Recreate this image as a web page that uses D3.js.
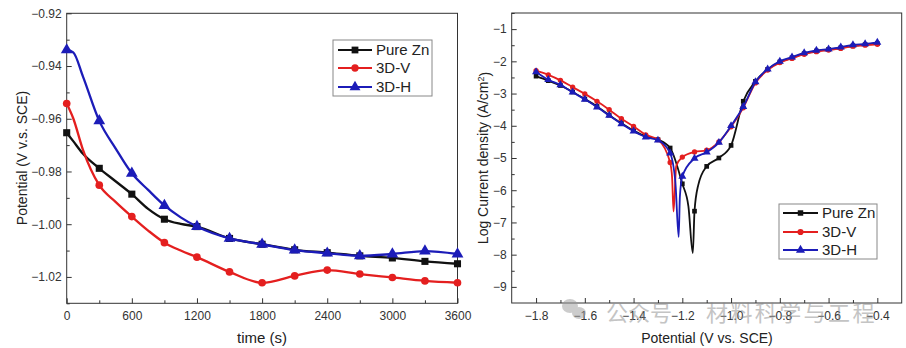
<!DOCTYPE html>
<html>
<head>
<meta charset="utf-8">
<script src="https://cdn.jsdelivr.net/npm/d3@7"></script>
<style>
  html, body { margin: 0; padding: 0; background: #fff; }
  #figure { width: 906px; height: 348px; }
  text { font-family: "Liberation Sans", Arial, sans-serif; }
</style>
</head>
<body>
<div id="figure"></div>
<script>
// open circuit potential vs time
const times = [0, 60, 150, 300, 450, 600, 750, 900, 1050, 1200, 1500, 1800, 2100, 2400, 2700, 3000, 3300, 3600];
const ocpPureZn = [-0.9653, -0.9685, -0.9733, -0.9788, -0.9837, -0.9886, -0.9942, -0.9981, -0.9999, -1.0009, -1.0054, -1.0076, -1.0097, -1.0108, -1.0120, -1.0128, -1.0141, -1.0150];
const ocp3DV    = [-0.9542, -0.9598, -0.9718, -0.9852, -0.9915, -0.9971, -1.0024, -1.0070, -1.0100, -1.0125, -1.0181, -1.0222, -1.0196, -1.0174, -1.0189, -1.0202, -1.0215, -1.0222];
const ocp3DH    = [-0.9339, -0.9348, -0.9440, -0.9608, -0.9712, -0.9807, -0.9870, -0.9929, -0.9974, -1.0009, -1.0054, -1.0076, -1.0098, -1.0110, -1.0120, -1.0113, -1.0102, -1.0113];

// polarization curves, sampled every 0.05 V
const potentials = d3.range(29).map(i => +(-1.8 + i * 0.05).toFixed(2));
const logIPureZn = [-2.46, -2.60, -2.75, -2.95, -3.17, -3.40, -3.67, -3.92, -4.15, -4.33, -4.43, -4.69, -5.80, -6.65, -5.26, -5.00, -4.61, -3.24, -2.62, -2.25, -2.02, -1.89, -1.76, -1.68, -1.63, -1.58, -1.52, -1.48, -1.45];
const logI3DV    = [-2.29, -2.42, -2.59, -2.80, -3.01, -3.24, -3.50, -3.78, -4.02, -4.28, -4.43, -5.14, -4.97, -4.81, -4.76, -4.50, -4.03, -3.44, -2.67, -2.27, -2.04, -1.91, -1.78, -1.70, -1.65, -1.60, -1.53, -1.50, -1.47];
const logI3DH    = [-2.33, -2.57, -2.73, -2.96, -3.18, -3.42, -3.68, -3.94, -4.17, -4.35, -4.45, -4.85, -5.57, -5.01, -4.82, -4.52, -4.00, -3.41, -2.64, -2.24, -2.00, -1.87, -1.74, -1.66, -1.62, -1.56, -1.49, -1.46, -1.41];

// extra points around the corrosion potential (no markers)
const dipPureZnV = [-1.175, -1.157, -1.135];
const dipPureZnI = [-6.50, -7.95, -5.85];
const dip3DVV    = [-1.242, -1.236, -1.225];
const dip3DVI    = [-5.60, -6.66, -5.25];
const dip3DHV    = [-1.228, -1.215, -1.210];
const dip3DHI    = [-5.80, -7.45, -6.20];

const seriesNames = ["Pure Zn", "3D-V", "3D-H"];
const colors = ["#111111", "#e41f1f", "#1c1cb8"];
const symbols = [d3.symbolSquare, d3.symbolCircle, d3.symbolTriangle];

const svg = d3.select("#figure").append("svg")
  .attr("width", 906)
  .attr("height", 348);

function drawAxes(x, y, xMajor, xMinor, yMajor, yMinor, xFmt, yFmt) {
  const [x0, x1] = x.range();
  const [y0, y1] = y.range();

  svg.append("g")
     .attr("transform", "translate(0," + y0 + ")")
     .call(d3.axisBottom(x).tickValues(xMajor).tickSize(-5).tickPadding(8).tickFormat(xFmt))
     .call(g => g.select(".domain").remove());
  svg.append("g")
     .attr("transform", "translate(0," + y0 + ")")
     .call(d3.axisBottom(x).tickValues(xMinor).tickSize(-3).tickFormat(""))
     .call(g => g.select(".domain").remove());
  svg.append("g")
     .attr("transform", "translate(" + x0 + ",0)")
     .call(d3.axisLeft(y).tickValues(yMajor).tickSize(-5).tickPadding(5).tickFormat(yFmt))
     .call(g => g.select(".domain").remove());
  svg.append("g")
     .attr("transform", "translate(" + x0 + ",0)")
     .call(d3.axisLeft(y).tickValues(yMinor).tickSize(-3).tickFormat(""))
     .call(g => g.select(".domain").remove());

  svg.selectAll(".tick line").attr("stroke", "#333");
  svg.selectAll(".tick text").attr("fill", "#333").style("font-size", "12px");

  svg.append("rect")
     .attr("x", x0).attr("y", y1)
     .attr("width", x1 - x0).attr("height", y0 - y1)
     .attr("fill", "none").attr("stroke", "#333").attr("stroke-width", 1);
}

function drawLegend(bx, by, bw, bh, rowY, lineX0, lineX1, textX, markSize) {
  const lg = svg.append("g");
  lg.append("rect")
    .attr("x", bx).attr("y", by).attr("width", bw).attr("height", bh)
    .attr("fill", "#fff").attr("stroke", "#888").attr("stroke-width", 1);
  seriesNames.forEach((name, i) => {
    const yy = by + rowY[i];
    lg.append("line")
      .attr("x1", lineX0).attr("x2", lineX1).attr("y1", yy).attr("y2", yy)
      .attr("stroke", colors[i]).attr("stroke-width", 2);
    lg.append("path")
      .attr("d", d3.symbol(symbols[i], markSize[i])())
      .attr("transform", "translate(" + ((lineX0 + lineX1) / 2) + "," + yy + ")")
      .attr("fill", colors[i]);
    lg.append("text")
      .attr("x", textX).attr("y", yy).attr("dy", "0.36em")
      .style("font-size", "15px").attr("fill", "#222")
      .text(name);
  });
}

// ---------- left: potential vs time ----------
const xT = d3.scaleLinear().domain([0, 3600]).range([66.7, 457.5]);
const yE = d3.scaleLinear().domain([-1.03, -0.92]).range([303.3, 13.3]);

drawAxes(xT, yE,
  d3.range(0, 3601, 600), d3.range(300, 3600, 600),
  [-1.02, -1.00, -0.98, -0.96, -0.94, -0.92], [-1.03, -1.01, -0.99, -0.97, -0.95, -0.93],
  d3.format("d"), d3.format(".2f"));

const ocpSeries = [ocpPureZn, ocp3DV, ocp3DH];
const ocpLine = d3.line()
  .x(d => xT(d.t))
  .y(d => yE(d.v))
  .curve(d3.curveMonotoneX);
const ocpMark = [50, 46, 60];

ocpSeries.forEach((vals, i) => {
  const pts = times.map((t, j) => ({ t: t, v: vals[j] }));
  svg.append("path")
     .datum(pts)
     .attr("d", ocpLine)
     .attr("fill", "none")
     .attr("stroke", colors[i])
     .attr("stroke-width", 2.3);
  svg.append("g").selectAll("path")
     .data(pts.filter(d => d.t % 300 === 0))
     .join("path")
     .attr("d", d3.symbol(symbols[i], ocpMark[i])())
     .attr("transform", d => "translate(" + xT(d.t) + "," + yE(d.v) + ")")
     .attr("fill", colors[i]);
});

svg.append("text")
   .attr("x", 262).attr("y", 343)
   .attr("text-anchor", "middle")
   .style("font-size", "15px").attr("fill", "#222")
   .text("time (s)");
svg.append("text")
   .attr("transform", "translate(27,158) rotate(-90)")
   .attr("text-anchor", "middle")
   .style("font-size", "14px").attr("fill", "#222")
   .text("Potential (V v.s. SCE)");

drawLegend(333, 40, 99, 56, [10, 28, 47], 338, 372, 376, [46, 42, 52]);

// ---------- right: polarization curves ----------
const xP = d3.scaleLinear().domain([-1.9, -0.3]).range([511.7, 901.7]);
const yI = d3.scaleLinear().domain([-9.5, -0.5]).range([303, 13]);

drawAxes(xP, yI,
  [-1.8, -1.6, -1.4, -1.2, -1.0, -0.8, -0.6, -0.4], [-1.7, -1.5, -1.3, -1.1, -0.9, -0.7, -0.5],
  d3.range(-9, 0), d3.range(-9, 0).map(v => v + 0.5),
  d3.format(".1f"), d3.format("d"));

const tafelSeries = [logIPureZn, logI3DV, logI3DH];
const dipV = [dipPureZnV, dip3DVV, dip3DHV];
const dipI = [dipPureZnI, dip3DVI, dip3DHI];
const tafelLine = d3.line()
  .x(d => xP(d.e))
  .y(d => yI(d.i))
  .curve(d3.curveMonotoneX);
const tafelMark = [22, 22, 28];

tafelSeries.forEach((vals, k) => {
  const marked = potentials.map((e, j) => ({ e: e, i: vals[j] }));
  const extra = dipV[k].map((e, j) => ({ e: e, i: dipI[k][j] }));
  const pts = marked.concat(extra).sort((a, b) => a.e - b.e);
  svg.append("path")
     .datum(pts)
     .attr("d", tafelLine)
     .attr("fill", "none")
     .attr("stroke", colors[k])
     .attr("stroke-width", 1.8);
  svg.append("g").selectAll("path")
     .data(marked)
     .join("path")
     .attr("d", d3.symbol(symbols[k], tafelMark[k])())
     .attr("transform", d => "translate(" + xP(d.e) + "," + yI(d.i) + ")")
     .attr("fill", colors[k]);
});

svg.append("text")
   .attr("x", 707).attr("y", 343)
   .attr("text-anchor", "middle")
   .style("font-size", "14px").attr("fill", "#222")
   .text("Potential (V vs. SCE)");
const yTitle = svg.append("text")
   .attr("transform", "translate(488,158) rotate(-90)")
   .attr("text-anchor", "middle")
   .style("font-size", "14px").attr("fill", "#222");
yTitle.append("tspan").text("Log Current density (A/cm");
yTitle.append("tspan").attr("dy", "-0.45em").style("font-size", "9px").text("2");
yTitle.append("tspan").attr("dy", "0.45em").text(")");

drawLegend(779, 204, 98, 55, [9, 28, 46], 783, 818, 822, [30, 30, 36]);

// ---------- account watermark ----------
const wm = svg.append("g").attr("opacity", 0.5);
wm.append("ellipse").attr("cx", 570).attr("cy", 306).attr("rx", 8).attr("ry", 7).attr("fill", "#9a9a9a");
wm.append("ellipse").attr("cx", 579).attr("cy", 313).attr("rx", 7).attr("ry", 6).attr("fill", "#9a9a9a");
wm.append("text")
  .attr("x", 606).attr("y", 321)
  .style("font-family", "'Noto Sans CJK SC', sans-serif")
  .style("font-size", "22px").attr("fill", "#8a8a8a")
  .text("公众号");
wm.append("text")
  .attr("x", 706).attr("y", 321)
  .style("font-family", "'Noto Sans CJK SC', sans-serif")
  .style("font-size", "22px").style("letter-spacing", "2.4px").attr("fill", "#8a8a8a")
  .text("材料科学与工程");
</script>
</body>
</html>
